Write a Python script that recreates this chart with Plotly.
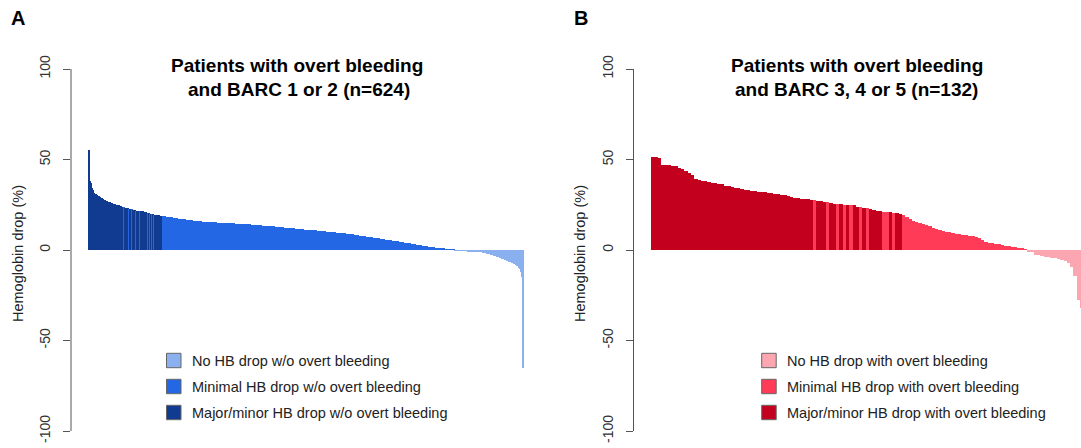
import plotly.graph_objects as go

# ---------------- data ----------------
# Panel A: patients with overt bleeding and BARC 1 or 2 (n=624), sorted Hb drop (%)
A_values = [
    55.2, 43.0, 38.1, 37.0, 35.2, 34.1, 33.0, 32.2, 31.6, 31.1, 30.8, 30.6, 30.4, 30.1, 29.8, 29.6, 29.3, 29.0, 28.8, 28.5,
    28.2, 28.0, 27.8, 27.6, 27.4, 27.2, 27.0, 26.8, 26.6, 26.5, 26.3, 26.1, 26.0, 25.9, 25.7, 25.6, 25.5, 25.4, 25.2, 25.1,
    25.0, 24.9, 24.7, 24.6, 24.4, 24.3, 24.2, 24.0, 23.9, 23.7, 23.6, 23.5, 23.4, 23.3, 23.2, 23.1, 23.0, 22.9, 22.8, 22.7,
    22.6, 22.5, 22.4, 22.3, 22.2, 22.1, 22.0, 21.9, 21.8, 21.7, 21.7, 21.6, 21.6, 21.5, 21.5, 21.4, 21.4, 21.3, 21.3, 21.2,
    21.1, 21.0, 20.8, 20.7, 20.5, 20.4, 20.3, 20.1, 20.0, 19.9, 19.8, 19.7, 19.7, 19.6, 19.5, 19.5, 19.4, 19.3, 19.3, 19.2,
    19.1, 19.1, 19.0, 19.0, 18.9, 18.9, 18.8, 18.7, 18.7, 18.6, 18.6, 18.5, 18.4, 18.4, 18.3, 18.3, 18.2, 18.1, 18.1, 18.0,
    17.9, 17.9, 17.8, 17.7, 17.7, 17.6, 17.6, 17.5, 17.4, 17.4, 17.3, 17.3, 17.2, 17.1, 17.1, 17.0, 17.0, 16.9, 16.9, 16.8,
    16.8, 16.7, 16.7, 16.6, 16.6, 16.5, 16.5, 16.4, 16.4, 16.3, 16.3, 16.2, 16.2, 16.1, 16.1, 16.0, 16.0, 15.9, 15.9, 15.8,
    15.8, 15.8, 15.7, 15.7, 15.7, 15.7, 15.6, 15.6, 15.6, 15.5, 15.5, 15.5, 15.5, 15.4, 15.4, 15.4, 15.3, 15.3, 15.3, 15.3,
    15.2, 15.2, 15.2, 15.2, 15.1, 15.1, 15.1, 15.1, 15.0, 15.0, 15.0, 15.0, 15.0, 14.9, 14.9, 14.9, 14.9, 14.9, 14.8, 14.8,
    14.8, 14.8, 14.8, 14.8, 14.7, 14.7, 14.7, 14.7, 14.7, 14.7, 14.6, 14.6, 14.6, 14.6, 14.6, 14.6, 14.5, 14.5, 14.5, 14.5,
    14.5, 14.4, 14.4, 14.4, 14.3, 14.3, 14.3, 14.2, 14.2, 14.2, 14.1, 14.1, 14.1, 14.0, 14.0, 14.0, 13.9, 13.9, 13.9, 13.8,
    13.8, 13.8, 13.7, 13.7, 13.7, 13.6, 13.6, 13.6, 13.5, 13.5, 13.5, 13.4, 13.4, 13.4, 13.3, 13.3, 13.3, 13.3, 13.2, 13.2,
    13.2, 13.1, 13.1, 13.1, 13.0, 13.0, 13.0, 12.9, 12.9, 12.9, 12.8, 12.8, 12.7, 12.7, 12.7, 12.6, 12.6, 12.5, 12.5, 12.5,
    12.4, 12.4, 12.3, 12.3, 12.3, 12.2, 12.2, 12.1, 12.1, 12.1, 12.0, 12.0, 11.9, 11.9, 11.9, 11.8, 11.8, 11.7, 11.7, 11.7,
    11.6, 11.6, 11.6, 11.5, 11.5, 11.5, 11.4, 11.4, 11.4, 11.3, 11.3, 11.3, 11.3, 11.2, 11.2, 11.2, 11.1, 11.1, 11.1, 11.0,
    11.0, 11.0, 10.9, 10.9, 10.9, 10.8, 10.8, 10.7, 10.7, 10.7, 10.6, 10.6, 10.5, 10.5, 10.5, 10.4, 10.4, 10.3, 10.3, 10.3,
    10.2, 10.2, 10.1, 10.1, 10.1, 10.0, 10.0, 9.9, 9.9, 9.9, 9.8, 9.8, 9.7, 9.7, 9.7, 9.6, 9.6, 9.5, 9.5, 9.5,
    9.4, 9.4, 9.4, 9.3, 9.3, 9.3, 9.2, 9.2, 9.2, 9.1, 9.0, 9.0, 8.9, 8.9, 8.8, 8.8, 8.7, 8.7, 8.6, 8.6,
    8.5, 8.5, 8.4, 8.3, 8.3, 8.2, 8.2, 8.1, 8.0, 8.0, 7.9, 7.9, 7.8, 7.7, 7.7, 7.6, 7.6, 7.5, 7.4, 7.4,
    7.3, 7.3, 7.2, 7.1, 7.1, 7.0, 7.0, 6.9, 6.8, 6.8, 6.7, 6.7, 6.6, 6.5, 6.5, 6.4, 6.4, 6.3, 6.2, 6.2,
    6.1, 6.1, 6.0, 5.9, 5.9, 5.8, 5.8, 5.7, 5.6, 5.6, 5.5, 5.4, 5.4, 5.3, 5.3, 5.2, 5.1, 5.1, 5.0, 4.9,
    4.9, 4.8, 4.8, 4.7, 4.6, 4.6, 4.5, 4.4, 4.4, 4.3, 4.3, 4.2, 4.1, 4.1, 4.0, 3.9, 3.9, 3.8, 3.8, 3.7,
    3.6, 3.6, 3.5, 3.4, 3.4, 3.3, 3.2, 3.2, 3.1, 3.0, 3.0, 2.9, 2.8, 2.8, 2.7, 2.6, 2.6, 2.5, 2.4, 2.4,
    2.3, 2.2, 2.2, 2.1, 2.0, 2.0, 1.9, 1.8, 1.8, 1.7, 1.7, 1.6, 1.5, 1.5, 1.4, 1.4, 1.3, 1.2, 1.2, 1.1,
    1.1, 1.0, 1.0, 0.9, 0.9, 0.8, 0.8, 0.7, 0.7, 0.6, 0.6, 0.5, 0.5, 0.5, 0.4, 0.4, 0.3, 0.3, 0.3, 0.2,
    0.2, 0.2, 0.1, 0.1, 0.1, -0.1, -0.1, -0.1, -0.2, -0.2, -0.2, -0.2, -0.3, -0.3, -0.3, -0.3, -0.4, -0.4, -0.4, -0.4,
    -0.5, -0.5, -0.5, -0.5, -0.6, -0.6, -0.6, -0.7, -0.7, -0.7, -0.8, -0.8, -0.8, -0.9, -0.9, -0.9, -1.0, -1.0, -1.1, -1.1,
    -1.1, -1.2, -1.2, -1.3, -1.3, -1.4, -1.5, -1.6, -1.7, -1.8, -1.9, -2.0, -2.1, -2.2, -2.3, -2.4, -2.5, -2.6, -2.8, -2.9,
    -3.0, -3.1, -3.3, -3.4, -3.5, -3.7, -3.8, -3.9, -4.1, -4.2, -4.4, -4.5, -4.7, -4.8, -5.0, -5.1, -5.3, -5.4, -5.6, -5.7,
    -5.9, -6.0, -6.2, -6.4, -6.6, -6.8, -7.0, -7.2, -7.4, -7.6, -7.8, -8.0, -8.2, -8.5, -8.7, -9.0, -9.4, -9.9, -10.5, -11.2,
    -12.4, -14.8, -21.0, -65.0,
]
# category runs (code, number of consecutive patients): M = major/minor, m = minimal, n = no HB drop
A_category_runs = [
    ("M", 44), ("m", 1), ("M", 6), ("m", 1), ("M", 6), ("m", 1), ("M", 3), ("m", 1), ("M", 5), ("m", 1),
    ("M", 4), ("m", 1), ("M", 3), ("m", 1), ("M", 2), ("m", 1), ("M", 4), ("m", 1), ("M", 2), ("m", 1),
    ("M", 2), ("m", 1), ("M", 2), ("m", 1), ("M", 2), ("m", 1), ("M", 2), ("m", 1), ("M", 2), ("m", 1),
    ("M", 2), ("m", 419), ("n", 99),
]

# Panel B: patients with overt bleeding and BARC 3, 4 or 5 (n=132)
B_values = [
    51.5, 51.3, 51.0, 47.0, 46.8, 46.7, 46.5, 46.3, 45.5, 44.8,
    43.5, 42.5, 41.5, 39.3, 38.6, 38.3, 38.0, 37.4, 37.1, 36.9,
    36.7, 36.4, 35.5, 35.2, 34.8, 34.4, 34.0, 33.7, 33.3, 33.0,
    32.7, 32.4, 32.2, 32.0, 31.8, 31.6, 31.3, 31.0, 30.8, 30.5,
    30.3, 30.0, 29.1, 28.8, 28.6, 28.4, 28.2, 28.0, 27.9, 27.6,
    27.3, 27.0, 26.6, 26.3, 25.8, 25.6, 25.4, 25.3, 25.1, 25.0,
    24.8, 24.6, 23.9, 23.6, 23.3, 23.0, 22.5, 22.2, 21.6, 21.3,
    21.2, 21.0, 20.8, 20.6, 20.3, 20.0, 19.5, 18.5, 17.2, 16.3,
    15.5, 14.8, 14.4, 13.6, 13.0, 12.4, 11.5, 10.8, 10.4, 10.0,
    9.7, 9.4, 9.0, 8.7, 8.5, 8.3, 8.0, 7.7, 7.4, 6.8,
    5.6, 4.6, 3.9, 3.7, 3.4, 3.1, 2.7, 2.4, 2.1, 1.7,
    1.5, 1.1, 0.8, 0.4, -0.7, -1.2, -2.5, -3.0, -3.3, -3.6,
    -3.9, -4.2, -4.6, -5.0, -5.6, -6.3, -7.4, -9.5, -14.5, -27.5,
    -32.0, -40.0,
]
B_category_runs = [
    ("M", 49), ("m", 1), ("M", 3), ("m", 1), ("M", 2), ("m", 1), ("M", 1), ("m", 1), ("M", 1), ("m", 1),
    ("M", 2), ("m", 1), ("M", 1), ("m", 1), ("M", 4), ("m", 2), ("M", 1), ("m", 1), ("M", 2), ("m", 38),
    ("n", 18),
]

A_colors = {"n": "#8AB0F0", "m": "#2467E4", "M": "#103B91"}
B_colors = {"n": "#FBA6B1", "m": "#FF3B57", "M": "#C4001F"}
A_labels = ["No HB drop w/o overt bleeding", "Minimal HB drop w/o overt bleeding",
            "Major/minor HB drop w/o overt bleeding"]
B_labels = ["No HB drop with overt bleeding", "Minimal HB drop with overt bleeding",
            "Major/minor HB drop with overt bleeding"]
A_title = ["Patients with overt bleeding", "and BARC 1 or 2 (n=624)"]
B_title = ["Patients with overt bleeding", "and BARC 3, 4 or 5 (n=132)"]
y_ticks = [-100, -50, 0, 50, 100]
y_title = "Hemoglobin drop (%)"

# ---------------- figure ----------------
W, H = 1081, 448
FONT = "Liberation Sans, Arial, Helvetica, sans-serif"


def expand(runs):
    out = []
    for code, n in runs:
        out += [code] * n
    return out


def px(x):
    return x / W


def py(y):
    return 1 - y / H


A_cat = expand(A_category_runs)
B_cat = expand(B_category_runs)

fig = go.Figure()
fig.add_trace(go.Bar(x=[i + 0.5 for i in range(len(A_values))], y=A_values, width=1,
                     marker=dict(color=[A_colors[c] for c in A_cat], line=dict(width=0)),
                     xaxis="x", yaxis="y", showlegend=False))
fig.add_trace(go.Bar(x=[i + 0.5 for i in range(len(B_values))], y=B_values, width=1,
                     marker=dict(color=[B_colors[c] for c in B_cat], line=dict(width=0)),
                     xaxis="x2", yaxis="y2", showlegend=False))

y0px, ppu = 250.0, 1.81
yrange = [-(H - y0px) / ppu, y0px / ppu]

axA_left, axB_left = 71.0, 633.5
nA, nB = len(A_values), len(B_values)
wA = 470.0
ppuB = wA / (1.08 * nB)

yax = dict(range=yrange, tickvals=y_ticks, ticktext=[str(v) for v in y_ticks], ticks="outside",
           ticklen=7, tickwidth=1, tickcolor="#555555", tickangle=-90, showgrid=False,
           zeroline=False, showline=False, tickfont=dict(family=FONT, size=14, color="#333333"),
           ticklabelstandoff=7, domain=[0, 1], fixedrange=True)

fig.update_layout(
    width=W, height=H, margin=dict(l=0, r=0, t=0, b=0),
    paper_bgcolor="white", plot_bgcolor="white", bargap=0,
    xaxis=dict(domain=[px(axA_left), px(axA_left + wA)], range=[-0.04 * nA, 1.04 * nA],
               visible=False, anchor="y"),
    xaxis2=dict(domain=[px(axB_left), 1.0],
                range=[-0.04 * nB, -0.04 * nB + (W - axB_left) / ppuB],
                visible=False, anchor="y2"),
    yaxis=dict(anchor="x", **yax),
    yaxis2=dict(anchor="x2", **yax),
)

shapes = []
annotations = []
for left, yref in [(axA_left, "y"), (axB_left, "y2")]:
    shapes.append(dict(type="line", xref="paper", yref=yref, x0=px(left), x1=px(left),
                       y0=-100, y1=100, line=dict(color="#555555", width=1)))


def ann(text, x, y, size, bold=False, xanchor="center", angle=0, color="#111111"):
    annotations.append(dict(text=("<b>%s</b>" % text) if bold else text, x=px(x), y=py(y),
                            xref="paper", yref="paper", xanchor=xanchor, yanchor="middle",
                            showarrow=False, textangle=angle,
                            font=dict(family=FONT, size=size, color=color)))


# panel letters
ann("A", 17.5, 18, 20, bold=True, color="#000000")
ann("B", 580.5, 18, 20, bold=True, color="#000000")
# titles
ann(A_title[0], 296.5, 65, 19, bold=True, color="#000000")
ann(A_title[1], 299.0, 89, 19, bold=True, color="#000000")
ann(B_title[0], 856.7, 65, 19, bold=True, color="#000000")
ann(B_title[1], 856.5, 89, 19, bold=True, color="#000000")
# y-axis titles
ann(y_title, 18, 254, 14.5, angle=-90, color="#222222")
ann(y_title, 580, 254, 14.5, angle=-90, color="#222222")

# legends
rows = [360.5, 386.5, 412.5]
for (sq_x, txt_x, colors, labels) in [(166.5, 189.7, A_colors, A_labels),
                                       (761.7, 784.8, B_colors, B_labels)]:
    for yy, code, lab in zip(rows, ["n", "m", "M"], labels):
        shapes.append(dict(type="rect", xref="paper", yref="paper",
                           x0=px(sq_x), x1=px(sq_x + 14.5), y0=py(yy + 7.2), y1=py(yy - 7.2),
                           fillcolor=colors[code], line=dict(color="#666666", width=1)))
        ann(lab, txt_x, yy, 14.5, xanchor="left", color="#222222")

fig.update_layout(shapes=shapes, annotations=annotations)
fig.write_html("out.html")
